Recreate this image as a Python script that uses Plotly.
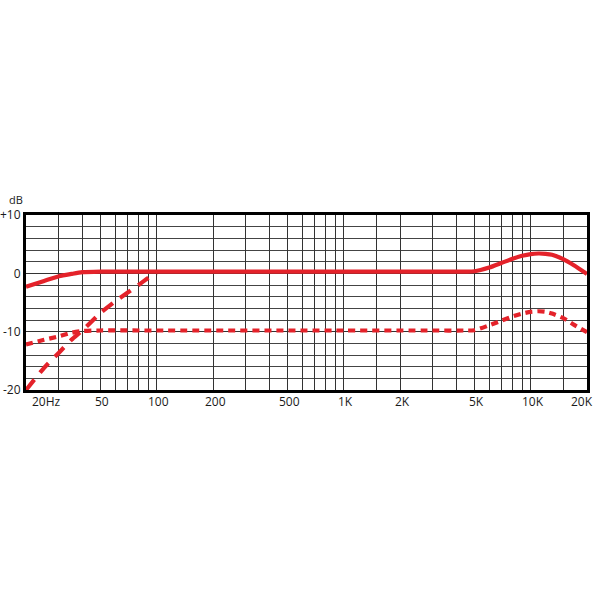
import plotly.graph_objects as go
import math

# ---- data ----
freq_solid = [20, 25, 30, 35, 40, 50, 100, 1000, 3000, 4500, 5000, 6000, 7000, 8000, 9000,
              10000, 11000, 12000, 13000, 15000, 17000, 20000]
db_solid = [-2.3, -1.3, -0.5, -0.1, 0.2, 0.3, 0.3, 0.3, 0.3, 0.3, 0.35, 1.0, 1.8, 2.5, 3.0,
            3.3, 3.4, 3.35, 3.2, 2.4, 1.4, -0.1]

freq_short = [20, 25, 30, 35, 40, 50, 100, 1000, 3000, 4500, 5000, 6000, 7000, 8000, 9000,
              10000, 11000, 12000, 13000, 15000, 17000, 20000]
db_short = [-12.2, -11.4, -10.8, -10.2, -9.9, -9.8, -9.8, -9.8, -9.8, -9.8, -9.75, -8.9, -8.1,
            -7.4, -6.9, -6.6, -6.5, -6.6, -6.9, -7.7, -8.8, -10.1]

freq_long = [20, 25, 30, 35, 40, 50, 60, 70, 80, 90, 100]
db_long = [-20.0, -16.2, -13.6, -11.4, -9.8, -6.8, -4.8, -3.3, -2.0, -0.8, 0.0]

grid_freqs = [20, 30, 40, 50, 60, 70, 80, 90, 100,
              200, 300, 400, 500, 600, 700, 800, 900, 1000,
              1500, 2000, 3000, 4000, 5000, 6000, 7000, 8000, 9000, 10000,
              15000, 20000]
x_label_vals = [20, 50, 100, 200, 500, 1000, 2000, 5000, 10000, 20000]
x_label_text = ["20Hz", "50", "100", "200", "500", "1K", "2K", "5K", "10K", "20K"]
y_tick_vals = [-20, -10, 0, 10]
y_tick_text = ["-20", "-10", "0", "+10"]

RED = "#e4222a"
FONT = "Open Sans"
TXT = "#1a1a1a"

fig = go.Figure()
fig.add_trace(go.Scatter(x=freq_solid, y=db_solid, mode="lines",
                         line=dict(color=RED, width=4.2, shape="spline", smoothing=0.6),
                         showlegend=False, hoverinfo="skip"))
fig.add_trace(go.Scatter(x=freq_short, y=db_short, mode="lines",
                         line=dict(color=RED, width=4.2, dash="7px,5px", shape="spline", smoothing=0.6),
                         showlegend=False, hoverinfo="skip"))
fig.add_trace(go.Scatter(x=freq_long, y=db_long, mode="lines",
                         line=dict(color=RED, width=4.2, dash="13px,9px", shape="spline", smoothing=0.6),
                         showlegend=False, hoverinfo="skip"))

fig.update_xaxes(type="log", range=[math.log10(20), math.log10(20000)],
                 tickvals=grid_freqs, showticklabels=False, ticks="",
                 showgrid=True, gridcolor="#333333", gridwidth=1,
                 showline=True, linecolor="black", linewidth=3, mirror=True,
                 zeroline=False, automargin=False)
fig.update_yaxes(range=[-20, 10], tickvals=y_tick_vals, ticktext=y_tick_text,
                 ticks="", showgrid=True, gridcolor="#333333", gridwidth=1,
                 minor=dict(dtick=2, showgrid=True, gridcolor="#444444", gridwidth=1),
                 showline=True, linecolor="black", linewidth=3, mirror=True,
                 zeroline=False, automargin=False,
                 tickfont=dict(family=FONT, size=12, color=TXT))

annotations = []
for v, t in zip(x_label_vals, x_label_text):
    if t == "20Hz":
        anchor, shift = "left", 4
    elif t == "20K":
        anchor, shift = "center", -5
    else:
        anchor, shift = "center", 2
    annotations.append(dict(x=math.log10(v), y=0, xref="x", yref="paper",
                            text=t, showarrow=False, xanchor=anchor, yanchor="top",
                            xshift=shift, yshift=-1,
                            font=dict(family=FONT, size=12, color=TXT)))
annotations.append(dict(x=0, y=1, xref="paper", yref="paper", text="dB",
                        showarrow=False, xanchor="right", yanchor="bottom",
                        xshift=-1, yshift=6,
                        font=dict(family=FONT, size=11, color=TXT)))

fig.update_layout(width=600, height=600, paper_bgcolor="white", plot_bgcolor="white",
                  margin=dict(l=26, r=13, t=215, b=210, pad=0),
                  annotations=annotations)

fig.write_html("out.html", config={"displayModeBar": False},
               post_script="document.body.style.margin='0';document.body.style.overflow='hidden';")
